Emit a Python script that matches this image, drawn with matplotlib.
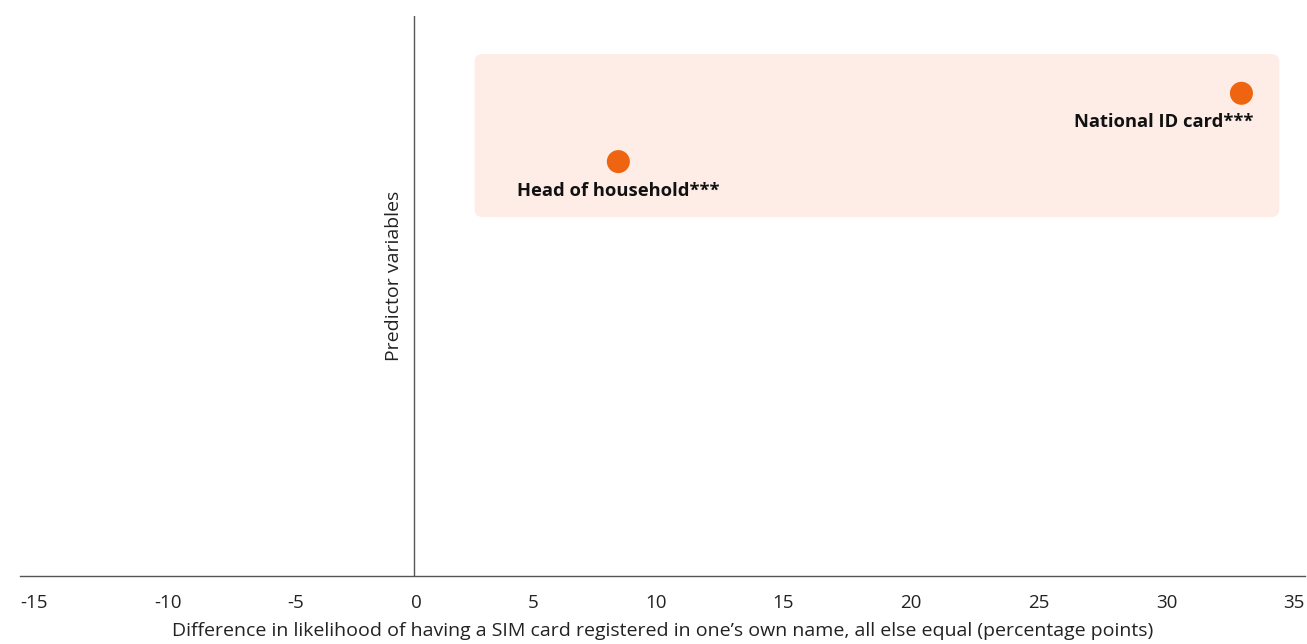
import matplotlib
matplotlib.use("Agg")
import matplotlib.pyplot as plt
from matplotlib.patches import FancyBboxPatch

# Marginal effects of predictors (percentage points)
predictors = ["Head of household***", "National ID card***"]
effects = [8.1, 32.8]
levels = [0.74, 0.862]

x_ticks = [-15, -10, -5, 0, 5, 10, 15, 20, 25, 30, 35]
x_tick_labels = ["-15", "-10", "-5", "0", "5", "10", "15", "20", "25", "30", "35"]

x_label = ("Difference in likelihood of having a SIM card registered in one\u2019s own name, "
           "all else equal (percentage points)")
y_label = "Predictor variables"

ORANGE = "#EE6410"
BAND = "#FDEDE6"
AXIS = "#555555"
TEXT = "#222222"

plt.rcParams["font.family"] = ["Open Sans", "DejaVu Sans"]

W, H = 1307, 644
fig = plt.figure(figsize=(W / 100, H / 100), dpi=100)
ax_left, ax_right, ax_top, ax_bottom = 20, 1305, 16, 576
ax = fig.add_axes([ax_left / W, (H - ax_bottom) / H,
                   (ax_right - ax_left) / W, (ax_bottom - ax_top) / H])

x_min, x_max = -15.62, 35.32
ax.set_xlim(x_min, x_max)
ax.set_ylim(0, 1)

# highlight band behind the significant predictors
px_x = (x_max - x_min) / (ax_right - ax_left)
px_y = 1 / (ax_bottom - ax_top)
band = FancyBboxPatch((2.4, 0.641), 31.9, 0.291,
                      boxstyle="round,pad=0,rounding_size=%f" % (8 * px_x),
                      mutation_aspect=px_y / px_x,
                      facecolor=BAND, edgecolor="none", zorder=0)
ax.add_patch(band)

ax.scatter(effects, levels, s=23 ** 2 * 0.52, color=ORANGE, edgecolors="none", zorder=3)

label_kw = dict(textcoords="offset points", ha="center", va="center",
                fontsize=13.2, fontweight="bold", color="#111111")
ax.annotate(predictors[0], (effects[0], levels[0]), xytext=(0, -21), **label_kw)
ax.annotate(predictors[1], (effects[1], levels[1]), xytext=(-56, -21), **label_kw)

ax.axvline(0, color=AXIS, lw=1.0, zorder=1)
for s in ["top", "right", "left"]:
    ax.spines[s].set_visible(False)
ax.spines["bottom"].set_color(AXIS)
ax.spines["bottom"].set_linewidth(1.0)

ax.set_yticks([])
ax.set_xticks([])
ax.set_xlabel(x_label, fontsize=14, color=TEXT, labelpad=33)

# tick labels spread across the axis with equal gaps between them
renderer = fig.canvas.get_renderer()
tick_texts = [fig.text(0, 1 - 603 / H, lab, ha="left", va="center",
                       fontsize=13.5, color=TEXT) for lab in x_tick_labels]
widths = [t.get_window_extent(renderer).width for t in tick_texts]
gap = ((ax_right - ax_left) - sum(widths)) / (len(widths) - 1)
pos = ax_left
for t, w in zip(tick_texts, widths):
    t.set_x(pos / W)
    pos += w + gap

fig.text(394 / W, 1 - 276 / H, y_label, rotation=90, ha="center", va="center",
         fontsize=14, color=TEXT)

fig.savefig("out.png", dpi=100)
